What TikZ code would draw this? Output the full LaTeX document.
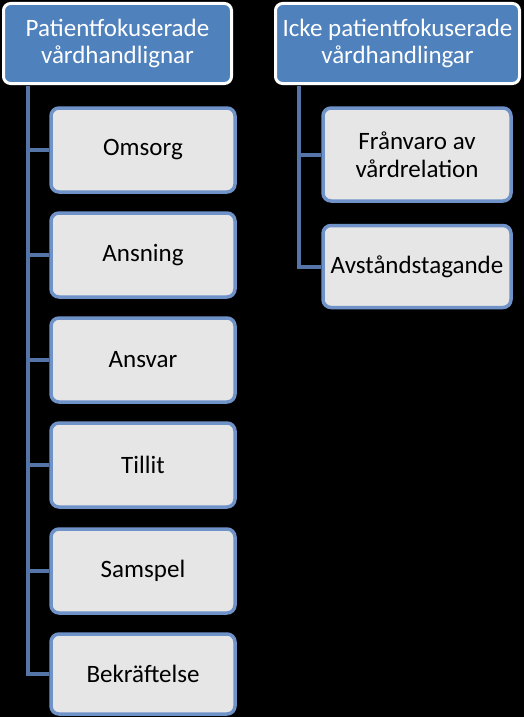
\documentclass[tikz,border=0pt]{standalone}
\usepackage{fontspec}
\setmainfont{Carlito}
\definecolor{hdrblue}{HTML}{4F81BD}
\definecolor{boxfill}{HTML}{E6E6E6}
\definecolor{boxedge}{HTML}{6F93C8}
\definecolor{linkblue}{HTML}{5575A8}
\begin{document}
\begin{tikzpicture}[x=1pt,y=-1pt,
  hdr/.style={draw=white,line width=3pt,fill=hdrblue,rounded corners=7pt,text=white,align=center,font=\fontsize{25}{27}\selectfont,inner sep=0pt},
  leaf/.style={draw=boxedge,line width=3.5pt,fill=boxfill,rounded corners=8pt,text=black,align=center,font=\fontsize{25}{28}\selectfont,inner sep=0pt},
  link/.style={draw=linkblue,line width=4pt}]
\fill[black] (0,0) rectangle (524,717);
\useasboundingbox (0,0) rectangle (524,717);
\node[hdr,minimum width=228pt,minimum height=80pt] (h1) at (117.5,43.5) {Patientfokuserade\\vårdhandlignar};
\node[hdr,minimum width=244pt,minimum height=80pt] (h2) at (397.5,43.5) {Icke patientfokuserade\\vårdhandlingar};
\coordinate (l1) at (28,86);
\coordinate (l2) at (299,86);
\node[leaf,minimum width=184pt,minimum height=84pt] (b1) at (143,150) {Omsorg};
\node[leaf,minimum width=184pt,minimum height=84pt] (b2) at (143,255) {Ansning};
\node[leaf,minimum width=184pt,minimum height=84pt] (b3) at (143,360) {Ansvar};
\node[leaf,minimum width=184pt,minimum height=84pt] (b4) at (143,465) {Tillit};
\node[leaf,minimum width=184pt,minimum height=84pt] (b5) at (143,571) {Samspel};
\node[leaf,minimum width=184pt,minimum height=80pt] (b6) at (143,674) {Bekräftelse};
\node[leaf,minimum width=188pt,minimum height=93pt] (r1) at (417,154.5) {Frånvaro av\\vårdrelation};
\node[leaf,minimum width=188pt,minimum height=82pt] (r2) at (417,266.5) {Avståndstagande};
\draw[link] (l1) |- (b6.west);
\foreach \b in {b1,b2,b3,b4,b5} \draw[link] (l1 |- \b.west) -- (\b.west);
\draw[link] (l2) |- (r2.west);
\draw[link] (l2 |- r1.west) -- (r1.west);
\end{tikzpicture}
\end{document}
